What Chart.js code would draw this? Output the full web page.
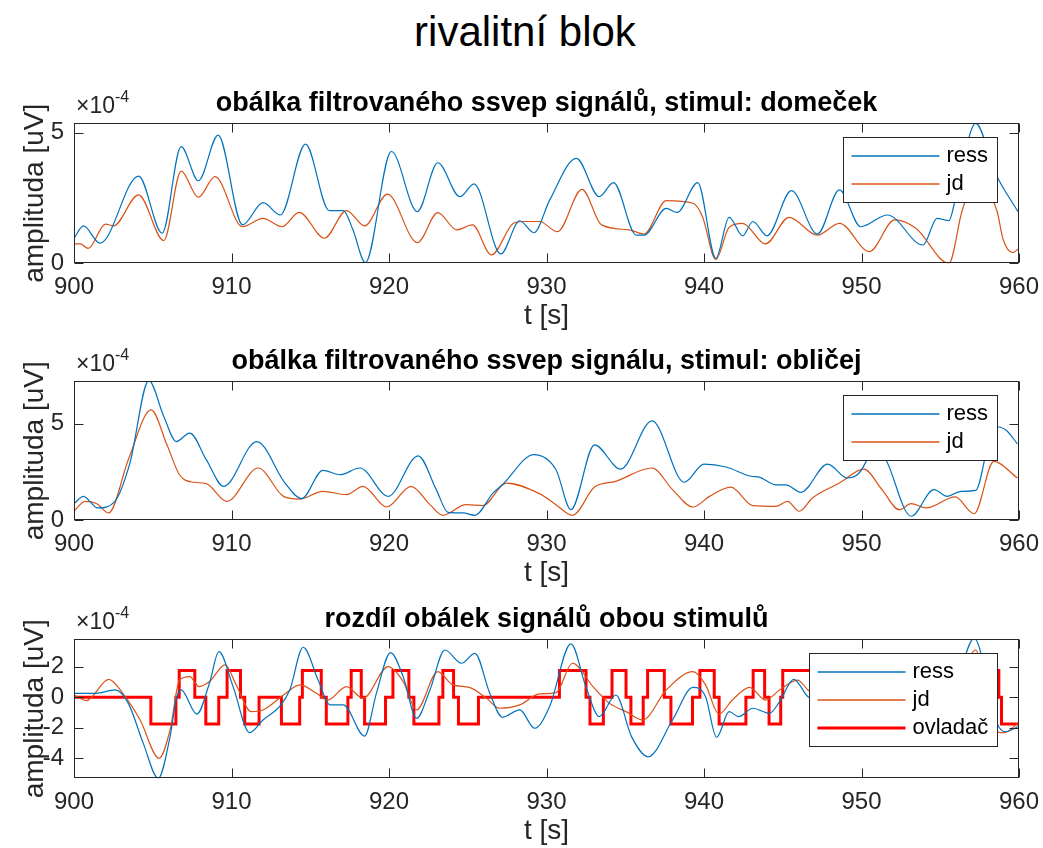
<!DOCTYPE html>
<html>
<head>
<meta charset="utf-8">
<script src="https://cdn.jsdelivr.net/npm/chart.js@4.4.1/dist/chart.umd.min.js"></script>
<style>
  html, body { margin: 0; padding: 0; background: #fff; overflow: hidden; }
  #page { position: relative; width: 1043px; height: 848px; }
  #mainTitle {
    position: absolute; left: 0; top: 10.5px; width: 1050px; text-align: center;
    font: 42px/42px "Liberation Sans", Arial, sans-serif; color: #000;
  }
  canvas { position: absolute; left: 0; }
</style>
</head>
<body>
<div id="page">
  <div id="mainTitle">rivalitní blok</div>
  <canvas id="c1" width="1043" height="258" style="top:80px"></canvas>
  <canvas id="c2" width="1043" height="257" style="top:338.4px"></canvas>
  <canvas id="c3" width="1043" height="257" style="top:596px"></canvas>
</div>
<script>
// ---- data (values in units of 1e-4 uV, time in s) ----

// panel 1: stimul domecek
const p1RessT = [900, 900.6, 901.65, 904.1, 905.6, 906.8, 907.9, 909.15, 910.7, 912.0, 913.1, 914.7, 916.2, 917.1, 917.7, 918.5, 920.15, 921.8, 923.1, 924.5, 925.4, 927.1, 928.3, 929.2, 930.2, 931.9, 933.35, 934.25, 935.7, 936.2, 937.6, 938.3, 939.6, 940.75, 941.6, 942.45, 943.1, 944.0, 945.55, 947.2, 948.6, 949.95, 951.65, 953.9, 954.8, 955.55, 955.95, 957.25, 958.5, 959.93];
const p1RessV = [0.96, 1.43, 0.77, 3.34, 1.15, 4.47, 3.16, 4.91, 1.47, 2.32, 1.85, 4.56, 2.02, 2.02, 1.3, 0.03, 4.28, 1.98, 3.85, 2.55, 3.04, 0.36, 1.63, 1.17, 2.42, 4.02, 2.55, 3.09, 1.08, 1.08, 2.1, 1.95, 3.09, 0.19, 1.76, 1.05, 1.6, 1.05, 2.78, 1.12, 2.81, 1.4, 1.85, 0.70, 1.72, 1.63, 2.42, 5.36, 3.45, 1.98];
const p1JdT = [900, 900.4, 900.9, 902.0, 902.5, 904.1, 905.7, 906.8, 907.9, 908.95, 910.7, 912.0, 913.2, 914.3, 915.9, 917.3, 918.45, 919.9, 921.8, 923.1, 924.3, 925.3, 926.5, 927.9, 928.5, 929.55, 930.7, 932.25, 933.5, 935.25, 936.2, 937.6, 939.3, 939.9, 940.75, 941.6, 942.45, 943.9, 945.4, 947.2, 948.6, 950.5, 952.1, 953.45, 955.55, 956.4, 957.3, 958.6, 959.0, 959.6, 960];
const p1JdV = [0.74, 0.74, 0.57, 1.5, 1.43, 2.62, 0.87, 3.53, 2.53, 3.32, 1.4, 1.72, 1.4, 1.95, 0.96, 2.02, 1.43, 2.65, 0.79, 1.94, 1.28, 1.47, 0.32, 1.53, 1.6, 1.6, 1.21, 2.83, 1.47, 1.28, 1.12, 2.4, 2.3, 1.79, 0.15, 1.38, 1.53, 0.74, 1.76, 1.08, 1.53, 0.45, 1.66, 1.34, 0.0, 2.04, 3.2, 2.0, 0.9, 0.41, 0.57];

// panel 2: stimul oblicej
const p2RessT = [900, 900.6, 901.5, 902.6, 903.55, 904.75, 905.7, 906.5, 907.35, 908.4, 909.5, 911.6, 913.4, 914.45, 915.8, 916.9, 918.15, 919.95, 921.85, 923.0, 923.75, 924.7, 925.45, 926.6, 927.2, 929.2, 930.6, 931.55, 933.05, 934.7, 936.7, 938.75, 940.0, 941.4, 943.0, 943.5, 944.55, 945.2, 946.15, 947.85, 949.1, 949.85, 950.5, 951.0, 951.55, 953.15, 954.6, 955.45, 956.3, 957.25, 958.1, 958.4, 959.15, 959.9];
const p2RessV = [0.86, 1.24, 0.64, 0.98, 2.96, 7.24, 5.38, 4.08, 4.52, 3.14, 1.76, 4.08, 1.93, 1.12, 2.59, 2.36, 2.71, 1.24, 3.34, 1.59, 0.41, 0.38, 0.26, 1.41, 1.84, 3.4, 2.62, 0.55, 3.91, 2.65, 5.15, 1.97, 2.91, 2.76, 2.28, 2.24, 1.84, 1.84, 1.45, 2.91, 2.19, 2.45, 3.31, 3.7, 3.14, 0.21, 1.59, 1.24, 1.5, 1.55, 4.17, 4.86, 4.69, 3.96];
const p2JdT = [900, 900.7, 901.45, 902.2, 903.45, 904.9, 905.9, 906.7, 907.6, 908.4, 909.7, 911.7, 913.3, 914.3, 915.8, 917.3, 918.35, 919.85, 921.4, 922.6, 923.4, 924.9, 925.95, 927.45, 929.55, 930.6, 931.65, 933.05, 934.4, 936.7, 938.0, 939.3, 940.35, 941.7, 943.1, 944.55, 945.3, 946.05, 946.9, 948.6, 950.15, 951.3, 952.4, 953.15, 954.1, 955.95, 957.15, 958.4, 959.9];
const p2JdV = [0.47, 0.98, 0.86, 0.38, 3.14, 5.72, 3.91, 2.36, 1.97, 1.9, 0.98, 2.71, 1.24, 1.1, 1.5, 1.33, 1.76, 0.69, 1.76, 0.81, 0.26, 0.81, 0.76, 1.93, 1.38, 0.81, 0.26, 1.72, 2.02, 2.71, 1.59, 0.69, 1.24, 1.72, 0.76, 0.72, 0.98, 0.47, 1.17, 1.93, 2.65, 1.59, 0.55, 0.86, 0.64, 1.21, 0.34, 3.05, 2.19];

// panel 3: difference of envelopes
const p3RessT = [900, 901.4, 902.6, 903.45, 904.4, 905.35, 906.1, 906.5, 906.8, 907.8, 908.6, 909.2, 910.1, 911.15, 912.0, 913.05, 913.7, 914.55, 915.5, 916.25, 917.1, 918.45, 919.2, 920.1, 920.9, 921.75, 922.6, 923.55, 924.6, 925.45, 926.4, 927.2, 928.3, 929.25, 930.2, 931.55, 932.5, 933.35, 934.4, 935.4, 936.45, 938.0, 939.3, 940.1, 940.8, 941.6, 942.2, 943.1, 944.15, 944.8, 945.7, 946.6, 948.0, 950.0, 951.0, 953.0, 955.0, 956.0, 957.15, 958.6, 959.15, 959.93];
const p3RessV = [0.26, 0.26, 0.48, -0.4, -3.02, -5.31, -2.58, -0.07, 0.48, -1.1, 0.92, 2.99, 0.7, -2.32, -1.49, -0.61, 0.48, 3.28, 1.13, -0.5, -0.5, -2.54, 0.26, 2.93, 1.35, -1.38, 0.48, 3.1, 2.23, 2.88, 0.26, -1.31, -0.83, -2.03, -0.6, 3.5, 0.7, -1.27, 0.15, -2.58, -3.9, -1.49, 0.65, 0.04, -2.62, -0.94, -1.27, -0.72, -1.05, -0.29, 1.18, 0.04, -0.4, -1.2, -2.1, 0.7, 0.3, 1.0, 3.86, -1.7, -2.26, -1.93];
const p3JdT = [900, 900.8, 902.2, 903.1, 904.2, 905.4, 906.1, 906.7, 907.35, 907.95, 908.6, 909.6, 910.3, 911.25, 912.0, 913.3, 914.35, 915.4, 916.1, 917.3, 918.35, 919.95, 920.9, 921.75, 923.1, 924.05, 925.1, 926.2, 927.0, 928.3, 929.55, 930.6, 931.65, 932.95, 934.0, 935.05, 936.1, 937.6, 939.3, 940.1, 940.95, 941.8, 942.9, 943.9, 944.8, 945.95, 946.6, 948.0, 950.0, 951.0, 952.0, 953.5, 955.5, 956.4, 957.25, 958.3, 959.05, 959.93];
const p3JdV = [0.15, -0.22, 1.18, 0.26, -1.49, -4.0, -2.14, 1.13, 1.35, 0.7, 1.03, 2.12, 0.81, -0.94, -0.83, 0.15, 0.81, 0.26, -0.18, 0.7, -0.07, 2.01, 1.03, -0.83, 1.68, 0.81, 0.65, -0.07, -0.72, -0.5, 0.22, 0.3, 2.23, 0.7, -0.4, -0.94, -1.49, 0.48, 1.68, 0.81, -1.1, -0.18, 0.65, -0.18, 0.48, 1.13, 0.48, -0.4, -1.9, -0.9, 0.7, 0.5, -1.2, 1.4, 3.1, -2.03, -2.32, -1.7];

// controller (stairs): value holds from each time until the next one
const ovladacT = [900, 904.88, 906.47, 906.68, 907.67, 908.37, 909.19, 909.72, 910.57, 910.84, 911.75, 913.17, 914.33, 914.5, 915.7, 916.02, 917.39, 917.6, 918.24, 918.45, 919.78, 920.25, 921.26, 921.58, 923.17, 923.42, 924.1, 924.41, 925.68, 930.82, 932.51, 932.76, 933.61, 934.16, 935.05, 935.36, 936.14, 936.42, 937.48, 937.9, 939.27, 939.74, 940.65, 940.96, 942.66, 943.12, 943.85, 944.13, 944.87, 945.0, 947.6, 947.8, 950.2, 950.4, 952.2, 952.5, 954.3, 954.6, 958.72, 958.89, 960];
const ovladacV = [0, -1.75, 0, 1.75, 0, -1.75, 0, 1.75, 0, -1.75, 0, -1.75, 0, 1.75, 0, -1.75, 0, 1.75, 0, -1.75, 0, 1.75, 0, -1.75, 0, 1.75, 0, -1.75, 0, 1.75, 0, -1.75, 0, 1.75, 0, -1.75, 0, 1.75, 0, -1.75, 0, 1.75, 0, -1.75, 0, 1.75, 0, -1.75, 0, 1.75, 0, -1.75, 0, 1.75, 0, -1.75, 0, 1.75, 0, -1.75, -1.75];

const xTicks = { min: 900, max: 960, step: 10 };

const FONT = '"Liberation Sans", Arial, sans-serif';
const AXIS_COLOR = '#262626';
const BLUE = '#0072BD';
const ORANGE = '#D95319';

function toXY(ts, vs) {
    return ts.map((t, i) => ({ x: t, y: vs[i] }));
}

// draws the matlab style box, inward ticks, exponent label and the boxed legend
const matlabAxes = {
    id: 'matlabAxes',
    afterDatasetsDraw(chart) {
        const ctx = chart.ctx;
        const a = chart.chartArea;
        const x = chart.scales.x;
        const y = chart.scales.y;
        const L = Math.round(a.left) + 0.5, R = Math.round(a.right) - 0.5;
        const T = Math.round(a.top) + 0.5, B = Math.round(a.bottom) - 0.5;
        ctx.save();
        ctx.strokeStyle = AXIS_COLOR;
        ctx.lineWidth = 1;
        ctx.beginPath();
        x.ticks.forEach(t => {
            const px = Math.round(x.getPixelForValue(t.value)) + 0.5;
            ctx.moveTo(px, B); ctx.lineTo(px, B - 9);
            ctx.moveTo(px, T); ctx.lineTo(px, T + 9);
        });
        y.ticks.forEach(t => {
            const py = Math.round(y.getPixelForValue(t.value)) + 0.5;
            ctx.moveTo(L, py); ctx.lineTo(L + 9, py);
            ctx.moveTo(R, py); ctx.lineTo(R - 9, py);
        });
        ctx.stroke();
        ctx.strokeRect(L, T, R - L, B - T);

        // exponent
        ctx.fillStyle = AXIS_COLOR;
        ctx.textBaseline = 'alphabetic';
        ctx.font = '23px ' + FONT;
        ctx.fillText('\u00d710', a.left + 2, a.top - 10);
        const w = ctx.measureText('\u00d710').width;
        ctx.font = '16px ' + FONT;
        ctx.fillText('-4', a.left + 2 + w, a.top - 21);

        // legend
        const ds = chart.data.datasets;
        ctx.font = '22px ' + FONT;
        const maxW = Math.max(...ds.map(d => ctx.measureText(d.label).width));
        const boxW = Math.round(103 + maxW + 9);
        const boxH = 18 + 28 * (ds.length - 1) + 19;
        const bx = Math.round(a.right - 22 - boxW) + 0.5;
        const by = Math.round(a.top + 13.4) + 0.5;
        ctx.fillStyle = '#fff';
        ctx.fillRect(bx, by, boxW, boxH);
        ctx.strokeStyle = AXIS_COLOR;
        ctx.lineWidth = 1;
        ctx.strokeRect(bx, by, boxW, boxH);
        ds.forEach((d, i) => {
            const ly = Math.round(by + 18 + 28 * i);
            ctx.strokeStyle = d.borderColor;
            ctx.lineWidth = d.borderWidth > 2 ? d.borderWidth : 1.5;
            ctx.beginPath();
            ctx.moveTo(bx + 8, ly);
            ctx.lineTo(bx + 96, ly);
            ctx.stroke();
            ctx.fillStyle = '#000';
            ctx.textBaseline = 'middle';
            ctx.fillText(d.label, bx + 103, ly);
        });
        ctx.restore();
    }
};

function makePanel(canvasId, title, datasets, yMin, yMax, yStep, areaH) {
    const canvas = document.getElementById(canvasId);
    const xScaleH = canvas.height - 43.3 - areaH;
    return new Chart(canvas, {
        type: 'line',
        data: { datasets: datasets },
        plugins: [matlabAxes],
        options: {
            responsive: false,
            animation: false,
            events: [],
            layout: { padding: { left: 0, right: 24, top: 0, bottom: 0 } },
            plugins: {
                legend: { display: false },
                tooltip: { enabled: false },
                title: {
                    display: true,
                    text: title,
                    fullSize: false,
                    color: '#000',
                    font: { family: FONT, size: 27, weight: 'bold', lineHeight: 1.2 },
                    padding: { top: 7.3, bottom: 3.6 }
                }
            },
            elements: { point: { radius: 0 } },
            scales: {
                x: {
                    type: 'linear',
                    min: xTicks.min,
                    max: xTicks.max,
                    afterFit: s => { s.height = xScaleH; s.paddingLeft = 0; s.paddingRight = 0; },
                    grid: { display: false, drawTicks: false },
                    border: { display: false },
                    ticks: {
                        stepSize: xTicks.step,
                        padding: 10,
                        maxRotation: 0,
                        autoSkip: false,
                        color: AXIS_COLOR,
                        font: { family: FONT, size: 24 }
                    },
                    title: {
                        display: true,
                        text: 't [s]',
                        color: AXIS_COLOR,
                        font: { family: FONT, size: 28 },
                        padding: { top: 0, bottom: 5 }
                    }
                },
                y: {
                    min: yMin,
                    max: yMax,
                    afterFit: s => { s.width = 74; s.paddingTop = 0; s.paddingBottom = 0; },
                    grid: { display: false, drawTicks: false },
                    border: { display: false },
                    ticks: {
                        stepSize: yStep,
                        includeBounds: false,
                        padding: 10,
                        color: AXIS_COLOR,
                        font: { family: FONT, size: 24 }
                    },
                    title: {
                        display: true,
                        text: 'amplituda [uV]',
                        color: AXIS_COLOR,
                        font: { family: FONT, size: 28 },
                        padding: { top: 18.4, bottom: 0 }
                    }
                }
            }
        }
    });
}

function line(label, ts, vs, color, width) {
    return {
        label: label,
        data: toXY(ts, vs),
        borderColor: color,
        backgroundColor: color,
        borderWidth: width,
        cubicInterpolationMode: 'monotone',
        fill: false
    };
}

makePanel('c1', 'obálka filtrovaného ssvep signálů, stimul: domeček', [
    line('ress', p1RessT, p1RessV, BLUE, 1.2),
    line('jd', p1JdT, p1JdV, ORANGE, 1.2)
], 0, 5.36, 5, 140);

makePanel('c2', 'obálka filtrovaného ssvep signálu, stimul: obličej', [
    line('ress', p2RessT, p2RessV, BLUE, 1.2),
    line('jd', p2JdT, p2JdV, ORANGE, 1.2)
], 0, 7.2, 5, 139);

const stairs = line('ovladač', ovladacT, ovladacV, '#FF0000', 3);
stairs.stepped = true;
stairs.cubicInterpolationMode = 'default';

makePanel('c3', 'rozdíl obálek signálů obou stimulů', [
    line('ress', p3RessT, p3RessV, BLUE, 1.2),
    line('jd', p3JdT, p3JdV, ORANGE, 1.2),
    stairs
], -5.31, 3.8, 2, 139);
</script>
</body>
</html>
